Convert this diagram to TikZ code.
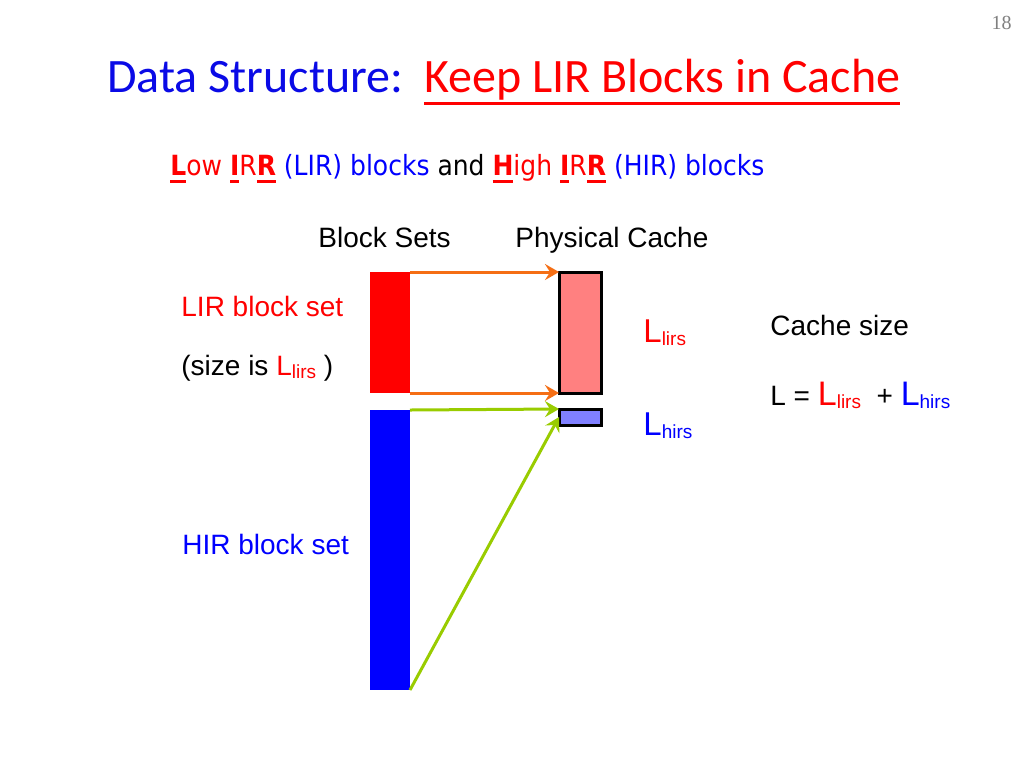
\documentclass[tikz,border=0pt]{standalone}
\usepackage{fontspec}
\setmainfont{Liberation Sans}
\newfontfamily\titlefont{Carlito}
\newfontfamily\tahomafont{DejaVu Sans}[FakeStretch=0.9]
\newfontfamily\slidenumfont{Liberation Serif}
\usetikzlibrary{arrows.meta}

\definecolor{titleblue}{RGB}{10,10,230}
\definecolor{lirred}{RGB}{255,0,0}
\definecolor{hirblue}{RGB}{0,0,255}
\definecolor{lirfill}{RGB}{255,128,128}
\definecolor{hirfill}{RGB}{128,128,255}
\definecolor{lirarrow}{RGB}{245,110,20}
\definecolor{hirarrow}{RGB}{153,204,0}

% #1 = rule offset, #2 = rule thickness, #3 = text
\newcommand\ulbar[3]{\setbox0=\hbox{#3}\rlap{\rule[#1]{\wd0}{#2}}\box0}
\newcommand\subsize[1]{{\fontsize{9.5}{10}\selectfont\raisebox{-1.5pt}{#1}}}
\newcommand\bigL{{\fontsize{17}{18}\selectfont L}}

\tikzset{
  txt/.style={anchor=base west, inner sep=0pt, font=\fontsize{14}{16}\selectfont},
  blockset/.style={minimum width=20pt, inner sep=0pt, outer sep=0pt},
  cacheset/.style={draw=black, line width=1.5pt, minimum width=21pt, inner sep=0pt, outer sep=0pt},
  move/.style={line width=1.5pt, -{Stealth[length=7pt,width=8pt,inset=2.5pt]}},
}

\begin{document}
\begin{tikzpicture}[x=0.5pt, y=-0.5pt]
  \fill[white] (0,0) rectangle (1024,768);
  \useasboundingbox (0,0) rectangle (1024,768);

  % title
  \node[txt, text=titleblue, font=\titlefont\fontsize{24}{28}\selectfont] (title) at (107,92) {Data Structure:};
  \node[txt, text=lirred, font=\titlefont\fontsize{24}{28}\selectfont] (titlekeep) at (424,92)
    {\ulbar{-6.5pt}{1.5pt}{Keep LIR Blocks in Cache}};
  \node[anchor=base east, inner sep=0pt, text=gray, font=\slidenumfont\fontsize{10}{12}\selectfont] (slidenum) at (1012,29) {18};

  % subtitle
  \node[txt, font=\tahomafont\fontsize{13.9}{16}\selectfont] (subtitle) at (170,175)
    {{\color{lirred}\ulbar{-3.8pt}{1.5pt}{\textbf{L}}ow \ulbar{-3.8pt}{1.5pt}{\textbf{I}}R\ulbar{-3.8pt}{1.5pt}{\textbf{R}}}
     {\color{hirblue}(LIR) blocks} and
     {\color{lirred}\ulbar{-3.8pt}{1.5pt}{\textbf{H}}igh \ulbar{-3.8pt}{1.5pt}{\textbf{I}}R\ulbar{-3.8pt}{1.5pt}{\textbf{R}}}
     {\color{hirblue}(HIR) blocks}};

  \node[txt] (blocksets) at (318,247) {Block Sets};
  \node[txt] (physcache) at (515,247) {Physical Cache};

  % block sets
  \node[blockset, fill=lirred, minimum height=60.5pt] (lirset) at (390,332.5) {};
  \node[blockset, fill=hirblue, minimum height=140pt] (hirset) at (390,550) {};
  \node[txt, text=lirred] (lirlabel) at (181,316) {LIR block set};
  \node[txt] (lirsize) at (181,375) {(size is {\color{lirred}L\subsize{lirs}} )};
  \node[txt, text=hirblue] (hirlabel) at (182,554) {HIR block set};

  % physical cache
  \node[cacheset, fill=lirfill, minimum height=60.5pt] (lircache) at (580,332.5) {};
  \node[cacheset, fill=hirfill, minimum height=8pt] (hircache) at (580,417) {};
  \node[txt, text=lirred, font=\fontsize{16.5}{18}\selectfont] (lirs) at (643,342) {L\subsize{lirs}};
  \node[txt, text=hirblue, font=\fontsize{16.5}{18}\selectfont] (hirs) at (643,435) {L\subsize{hirs}};

  \draw[move, lirarrow] (lirset.north east) -- (lircache.north west);
  \draw[move, lirarrow] (lirset.south east) -- (lircache.south west);
  \draw[move, hirarrow] (hirset.north east) -- (hircache.north west);
  \draw[move, hirarrow] (hirset.south east) -- (hircache.west);

  % cache size
  \node[txt] (cachesize) at (770,335) {Cache size};
  \node[txt] (cachesum) at (770,405)
    {L = {\color{lirred}\bigL\subsize{lirs}}\ \ + {\color{hirblue}\bigL\subsize{hirs}}};
\end{tikzpicture}
\end{document}
